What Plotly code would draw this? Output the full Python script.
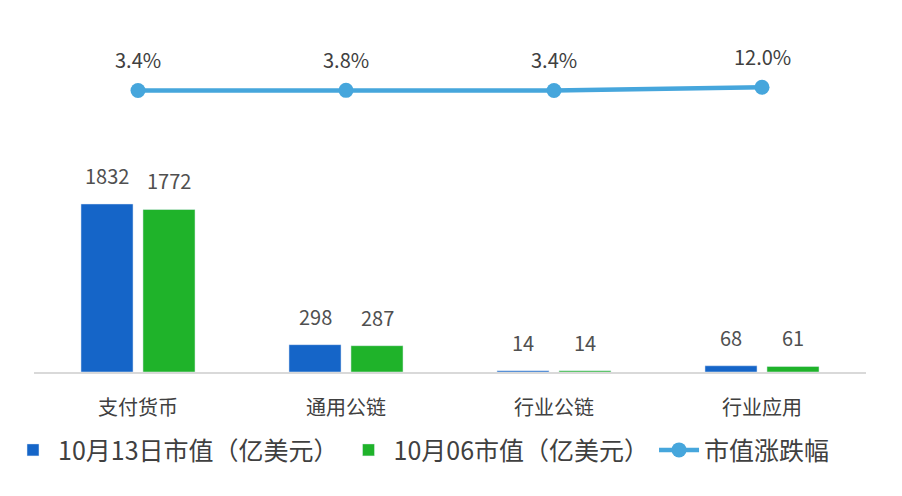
import plotly.graph_objects as go

categories = ["支付货币", "通用公链", "行业公链", "行业应用"]
cap_1013 = [1832, 298, 14, 68]
cap_1006 = [1772, 287, 14, 61]
change_pct = [3.4, 3.8, 3.4, 12.0]

name_1013 = "10月13日市值（亿美元）"
name_1006 = "10月06市值（亿美元）"
name_change = "市值涨跌幅"

BLUE = "#1565c8"
GREEN = "#1fb32a"
LINE = "#46a6dc"
FONT = "Noto Sans CJK SC, Noto Sans, sans-serif"

fig = go.Figure()
fig.add_trace(go.Bar(x=categories, y=cap_1013, name=name_1013, marker_color=BLUE,
                     cliponaxis=False))
fig.add_trace(go.Bar(x=categories, y=cap_1006, name=name_1006, marker_color=GREEN,
                     cliponaxis=False))
fig.add_trace(go.Scatter(x=categories, y=change_pct, name=name_change, yaxis="y2",
                         mode="lines+markers",
                         line=dict(color=LINE, width=4.5),
                         marker=dict(color=LINE, size=15),
                         cliponaxis=False))

annotations = []
# value labels above bars
for cat, v in zip(categories, cap_1013):
    annotations.append(dict(x=cat, y=v, xref="x", yref="y", text=str(v), showarrow=False,
                            xshift=-31, yshift=12, yanchor="bottom",
                            font=dict(size=20, color="#505050", family=FONT)))
for cat, v in zip(categories, cap_1006):
    annotations.append(dict(x=cat, y=v, xref="x", yref="y", text=str(v), showarrow=False,
                            xshift=31, yshift=12, yanchor="bottom",
                            font=dict(size=20, color="#505050", family=FONT)))
# percentage labels above line markers
for cat, v in zip(categories, change_pct):
    annotations.append(dict(x=cat, y=v, xref="x", yref="y2", text=f"{v:.1f}%",
                            showarrow=False, yshift=31, yanchor="middle",
                            font=dict(size=20, color="#404040", family=FONT)))

fig.update_layout(
    width=894, height=488,
    margin=dict(l=26, r=36, t=32, b=124),
    paper_bgcolor="white", plot_bgcolor="white",
    font=dict(family=FONT, color="#404040"),
    barmode="group", bargap=0.404, bargroupgap=0.16,
    xaxis=dict(showline=True, linecolor="#d9d9d9", linewidth=2, ticks="",
               ticklabelstandoff=17, automargin=False,
               tickfont=dict(size=20, color="#404040"), showgrid=False),
    yaxis=dict(range=[0, 3620], visible=False, showgrid=False, automargin=False),
    yaxis2=dict(range=[-729.7, 134.9], overlaying="y", visible=False, showgrid=False,
                automargin=False),
    showlegend=True,
    legend=dict(orientation="h", xref="container", yref="container",
                x=0.0, y=0.094, xanchor="left", yanchor="middle",
                font=dict(size=25, color="#404040"), traceorder="normal",
                itemwidth=40),
    annotations=annotations,
)

fig.write_html("out.html")
